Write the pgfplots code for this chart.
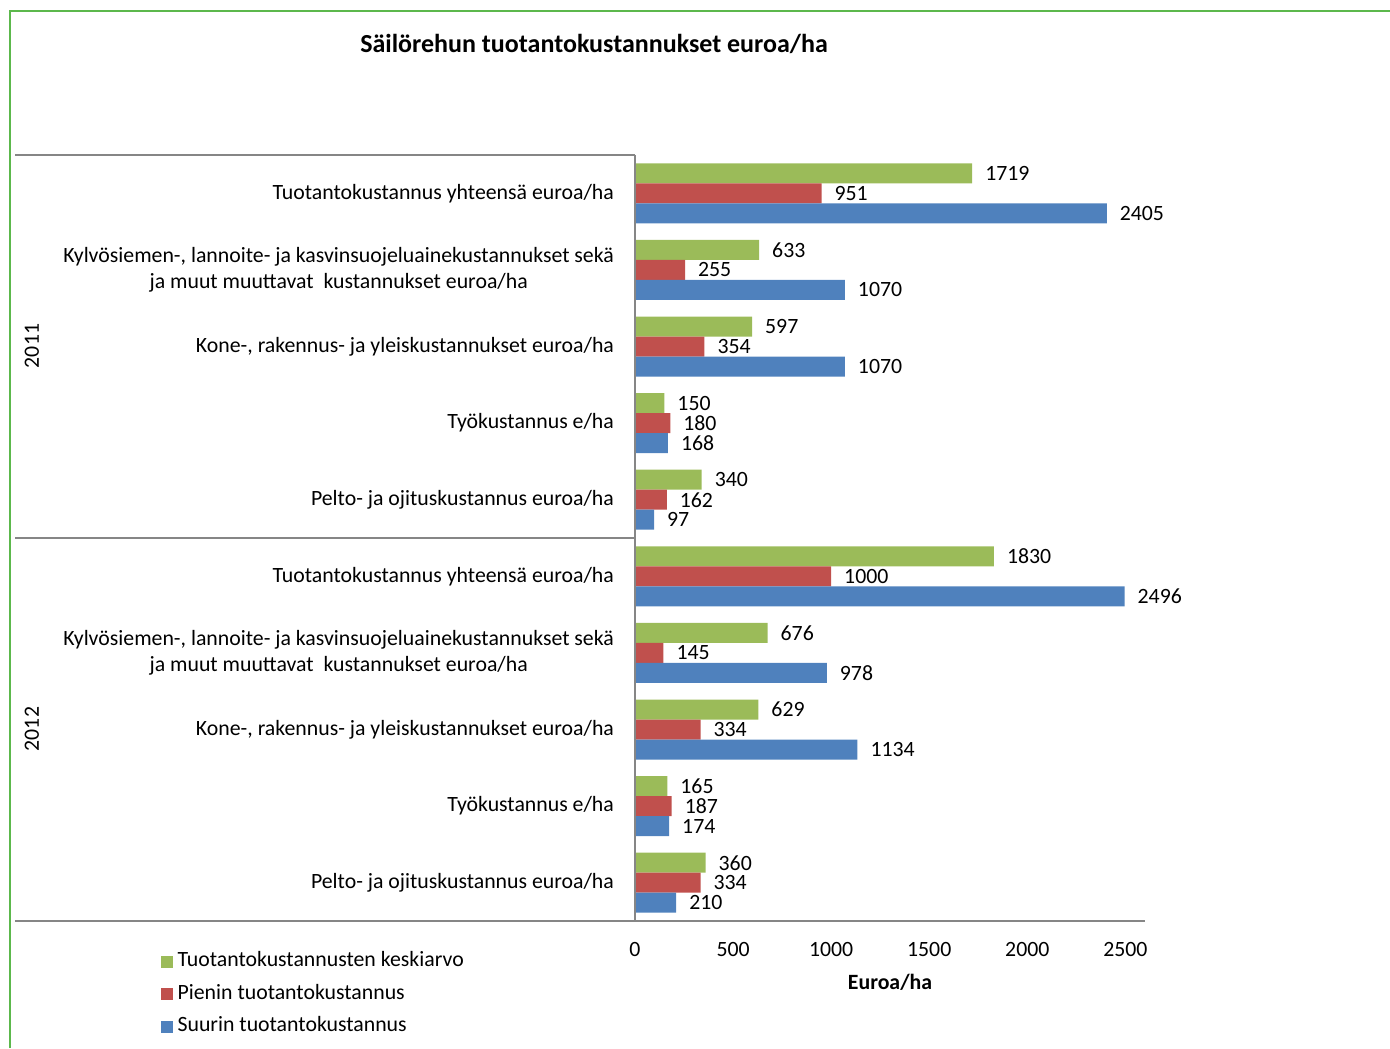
\documentclass[border=0pt]{standalone}
\usepackage{fontspec}
\setmainfont{Carlito}
\usepackage{pgfplots}
\pgfplotsset{compat=1.18}

\definecolor{keski}{HTML}{9BBB59}
\definecolor{pienin}{HTML}{C0504D}
\definecolor{suurin}{HTML}{4F81BD}
\definecolor{axisgray}{HTML}{868686}
\definecolor{framegreen}{RGB}{92,184,76}

\begin{document}
\begin{tikzpicture}
\path[use as bounding box] (0pt,0pt) rectangle (695pt,-524pt);
\draw[framegreen, line width=1.2pt] (5pt,-524pt) -- (5pt,-5.5pt) -- (695pt,-5.5pt);

\node[font=\bfseries\fontsize{13}{15}\selectfont] at (297pt,-22pt) {Säilörehun tuotantokustannukset euroa/ha};

\begin{axis}[
    at={(317.5pt,-460.5pt)}, anchor=south west,
    scale only axis, width=255pt, height=383pt,
    xbar, bar width=0.261,
    xmin=0, xmax=2600, ymin=0.5, ymax=10.5, y dir=reverse,
    xtick={0,500,1000,1500,2000,2500},
    ytick={1,...,10},
    yticklabels={
        {Tuotantokustannus yhteensä euroa/ha},
        {Kylvösiemen-, lannoite- ja kasvinsuojeluainekustannukset sekä\\ja muut muuttavat\ \ kustannukset euroa/ha},
        {Kone-, rakennus- ja yleiskustannukset euroa/ha},
        {Työkustannus e/ha},
        {Pelto- ja ojituskustannus euroa/ha},
        {Tuotantokustannus yhteensä euroa/ha},
        {Kylvösiemen-, lannoite- ja kasvinsuojeluainekustannukset sekä\\ja muut muuttavat\ \ kustannukset euroa/ha},
        {Kone-, rakennus- ja yleiskustannukset euroa/ha},
        {Työkustannus e/ha},
        {Pelto- ja ojituskustannus euroa/ha}},
    major tick length=0pt,
    axis line style={draw=none},
    scaled x ticks=false,
    /pgf/number format/1000 sep={},
    /pgf/number format/assume math mode=true,
    tick label style={font=\fontsize{10.9}{13}\selectfont},
    yticklabel style={align=center, xshift=-7pt},
    xticklabel style={yshift=-7pt},
    xlabel={Euroa/ha},
    xlabel style={at={(axis description cs:0.5,0)}, anchor=center, yshift=-30.5pt, font=\bfseries\fontsize{10.9}{13}\selectfont},
    point meta=x,
    nodes near coords,
    every node near coord/.append style={font=\fontsize{10.9}{13}\selectfont, xshift=3pt},
    legend cell align=left,
    legend image code/.code={\fill[#1] (0pt,-3pt) rectangle (6pt,3pt);},
    legend style={draw=none, fill=none, at={(-0.931,-0.041)}, anchor=north west,
        inner sep=0pt, row sep=7.25pt, font=\fontsize{10.9}{13}\selectfont,
        nodes={inner sep=0pt, text height=7pt, text depth=2pt},
        /tikz/every odd column/.append style={column sep=2.5pt}},
]
\addplot[fill=keski, draw=none, bar shift=-0.261] coordinates {
    (1719,1) (633,2) (597,3) (150,4) (340,5)
    (1830,6) (676,7) (629,8) (165,9) (360,10)};
\addlegendentry{Tuotantokustannusten keskiarvo}
\addplot[fill=pienin, draw=none, bar shift=0] coordinates {
    (951,1) (255,2) (354,3) (180,4) (162,5)
    (1000,6) (145,7) (334,8) (187,9) (334,10)};
\addlegendentry{Pienin tuotantokustannus}
\addplot[fill=suurin, draw=none, bar shift=0.261] coordinates {
    (2405,1) (1070,2) (1070,3) (168,4) (97,5)
    (2496,6) (978,7) (1134,8) (174,9) (210,10)};
\addlegendentry{Suurin tuotantokustannus}
\end{axis}

% axis lines and group separators
\draw[axisgray, line width=0.7pt] (317.5pt,-77.5pt) -- (317.5pt,-460.5pt);
\draw[axisgray, line width=0.7pt] (7.5pt,-460.5pt) -- (572.5pt,-460.5pt);
\draw[axisgray, line width=0.7pt] (7.5pt,-77.5pt) -- (317.5pt,-77.5pt);
\draw[axisgray, line width=0.7pt] (7.5pt,-269pt) -- (317.5pt,-269pt);

\node[rotate=90, font=\fontsize{10.9}{13}\selectfont] at (16pt,-173pt) {2011};
\node[rotate=90, font=\fontsize{10.9}{13}\selectfont] at (16pt,-364.5pt) {2012};
\end{tikzpicture}
\end{document}
